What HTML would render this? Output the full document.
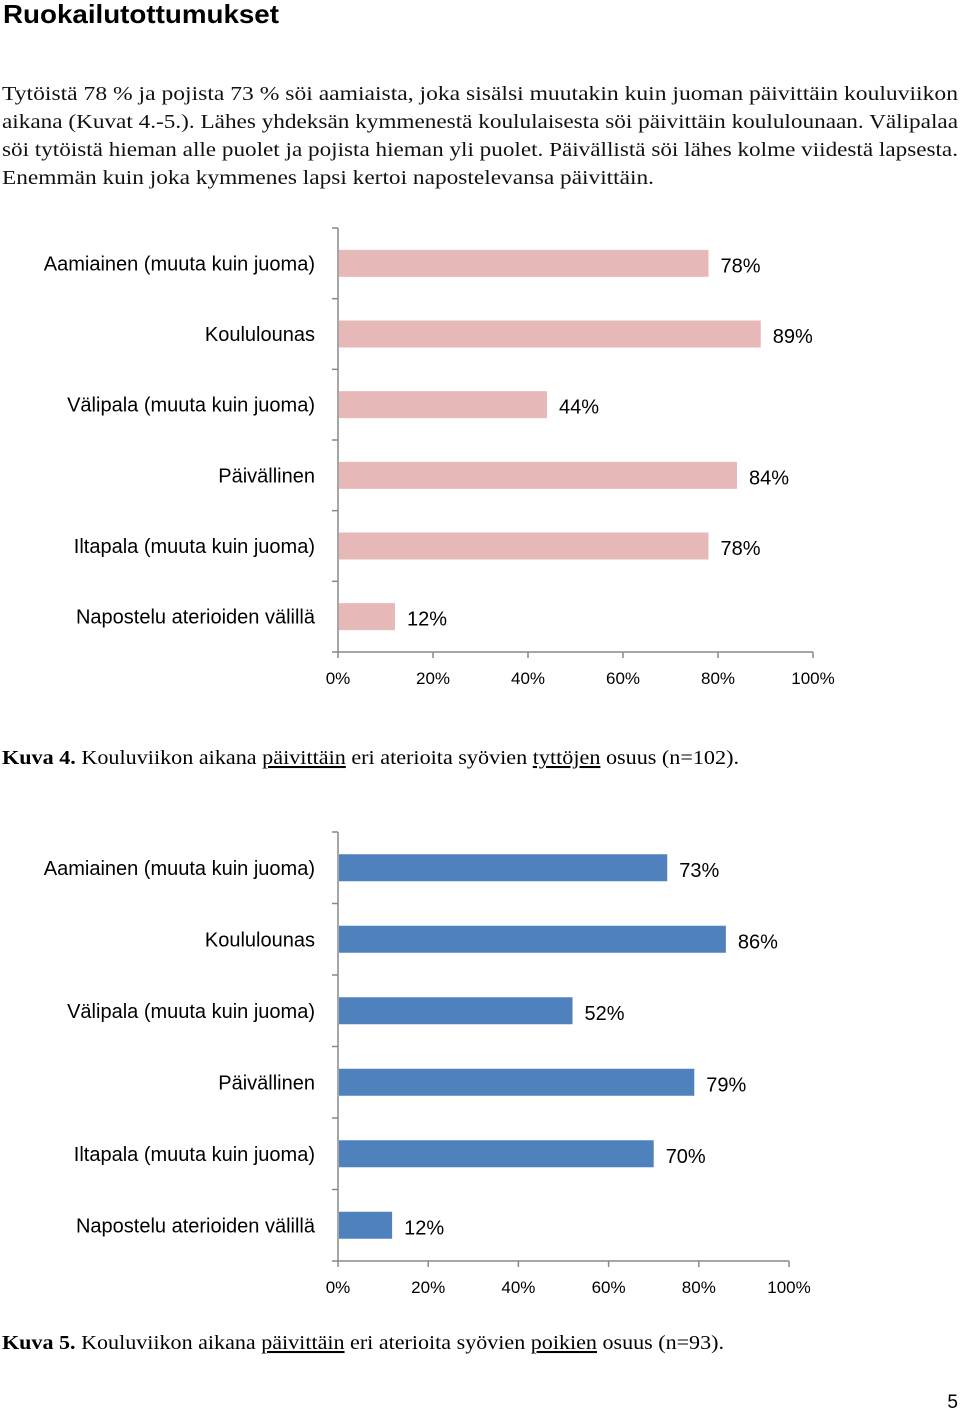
<!DOCTYPE html>
<html><head><meta charset="utf-8"><style>
body{margin:0;background:#fff;}
svg{display:block;}
</style></head><body>
<svg id="page" width="960" height="1411" xmlns="http://www.w3.org/2000/svg" font-family="Liberation Serif, serif">
<text x="3" y="23" font-family="Liberation Sans, sans-serif" font-weight="bold" font-size="26" textLength="276" lengthAdjust="spacingAndGlyphs">Ruokailutottumukset</text>
<g font-size="20.5" fill="#111">
<text x="2" y="100" textLength="956" lengthAdjust="spacingAndGlyphs">Tytöistä 78 % ja pojista 73 % söi aamiaista, joka sisälsi muutakin kuin juoman päivittäin kouluviikon</text>
<text x="2" y="128" textLength="956" lengthAdjust="spacingAndGlyphs">aikana (Kuvat 4.-5.). Lähes yhdeksän kymmenestä koululaisesta söi päivittäin koululounaan. Välipalaa</text>
<text x="2" y="156" textLength="956" lengthAdjust="spacingAndGlyphs">söi tytöistä hieman alle puolet ja pojista hieman yli puolet. Päivällistä söi lähes kolme viidestä lapsesta.</text>
<text x="2" y="184" textLength="652" lengthAdjust="spacingAndGlyphs">Enemmän kuin joka kymmenes lapsi kertoi napostelevansa päivittäin.</text>
</g>
<g id="chart1"></g>
<g id="chart2"></g>
<text x="2" y="764" font-size="20.5" textLength="737" lengthAdjust="spacingAndGlyphs"><tspan font-weight="bold">Kuva 4.</tspan> Kouluviikon aikana <tspan text-decoration="underline">päivittäin</tspan> eri aterioita syövien <tspan text-decoration="underline">tyttöjen</tspan> osuus (n=102).</text>
<text x="2" y="1349" font-size="20.5" textLength="722" lengthAdjust="spacingAndGlyphs"><tspan font-weight="bold">Kuva 5.</tspan> Kouluviikon aikana <tspan text-decoration="underline">päivittäin</tspan> eri aterioita syövien <tspan text-decoration="underline">poikien</tspan> osuus (n=93).</text>
<text x="958" y="1408" text-anchor="end" font-family="Liberation Sans, sans-serif" font-size="19">5</text>
</svg>
<script>
const categories = ["Aamiainen (muuta kuin juoma)","Koululounas","Välipala (muuta kuin juoma)","Päivällinen","Iltapala (muuta kuin juoma)","Napostelu aterioiden välillä"];
const girlsValues = [78, 89, 44, 84, 78, 12];
const boysValues = [73, 86, 52, 79, 70, 12];
const tickLabels = ["0%","20%","40%","60%","80%","100%"];
const tickValues = [0, 20, 40, 60, 80, 100];
const NS = "http://www.w3.org/2000/svg";
function mk(parent, tag, attrs){const e=document.createElementNS(NS,tag);for(const k in attrs)e.setAttribute(k,attrs[k]);parent.appendChild(e);return e;}
function draw(gid, values, color, x0, x1, top, bottom, tickY){
  const g=document.getElementById(gid);
  const xs=v=>x0+(x1-x0)*v/100;
  const band=(bottom-top)/categories.length;
  const ax=mk(g,'line',{x1:x0,y1:top,x2:x0,y2:bottom,stroke:'#888','stroke-width':1.5});
  
  
  const bx=mk(g,'line',{x1:x0,y1:bottom,x2:x1,y2:bottom,stroke:'#888','stroke-width':1.5});
  
  
  for(let i=0;i<=categories.length;i++){
    const t=mk(g,'line',{x1:x0-6,y1:top+i*band,x2:x0,y2:top+i*band,stroke:'#888','stroke-width':1.5});
    
    
  }
  tickValues.forEach((v,i)=>{
    const t=mk(g,'line',{x1:xs(v),y1:bottom,x2:xs(v),y2:bottom+6,stroke:'#888','stroke-width':1.5});
    
    
    const l=mk(g,'text',{x:xs(v),y:tickY,'text-anchor':'middle','font-family':'Liberation Sans, sans-serif','font-size':17});
    l.textContent=tickLabels[i];
    
    
  });
  categories.forEach((c,i)=>{
    const cy=top+band*(i+0.5);
    const lab=mk(g,'text',{x:315,y:cy+7,'text-anchor':'end','font-family':'Liberation Sans, sans-serif','font-size':20});
    lab.textContent=c;
    
    
    const r=mk(g,'rect',{x:x0+1,y:cy-13.5,width:xs(values[i])-x0-1,height:27,fill:color});
    
    
    const vl=mk(g,'text',{x:xs(values[i])+12,y:cy+9,'font-family':'Liberation Sans, sans-serif','font-size':20});
    vl.textContent=values[i]+'%';
    
    
  });
}
draw('chart1', girlsValues, '#e6b9b8', 338, 813, 228, 652, 684);
draw('chart2', boysValues, '#4f81bd', 338, 789, 832, 1261, 1293);
</script>
</body></html>
